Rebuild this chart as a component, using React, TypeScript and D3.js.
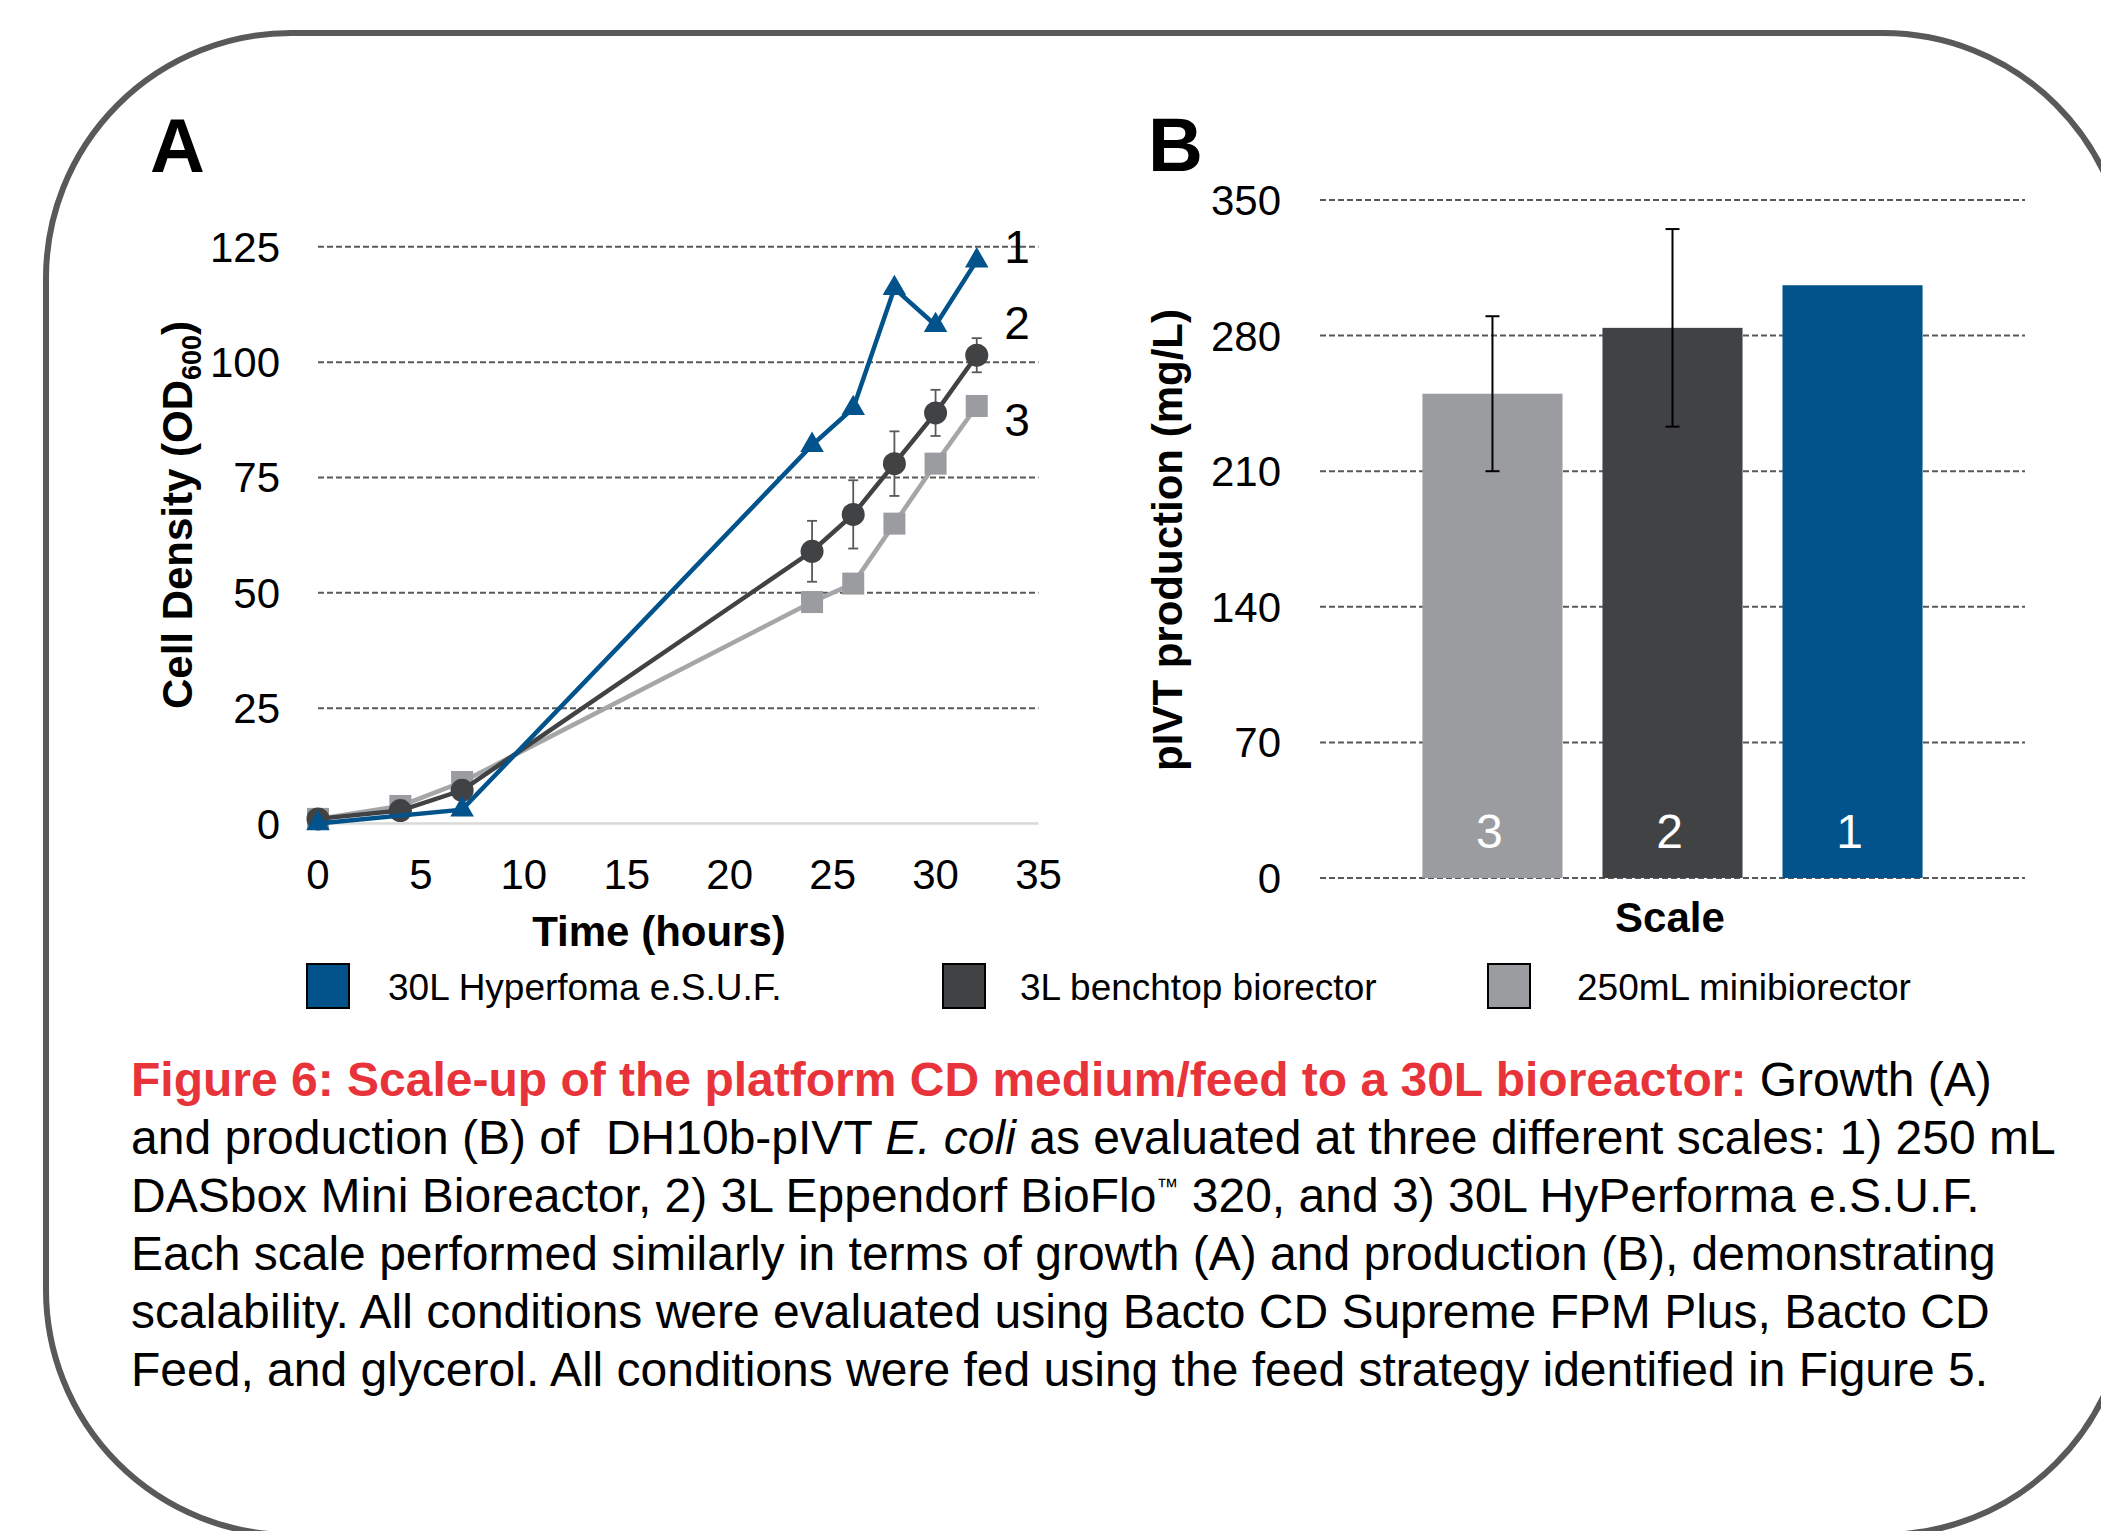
import React from "react";
import * as d3 from "d3";

// ---------- Data ----------
const hoursAll = [0, 4, 7, 24, 26, 28, 30, 32];
const hours30L = [0, 7, 24, 26, 28, 30, 32];
const od30L = [0, 3, 82, 90, 116, 108, 122];
const od3L = [1, 2.8, 7.2, 59, 67, 78, 89, 101.5];
const od3LErr = [0, 0, 0, 6.6, 7.4, 7, 5, 3.7];
const od250 = [1, 3.8, 9, 48, 52, 65, 78, 90.5];

const xTicksA = [0, 5, 10, 15, 20, 25, 30, 35];
const yTicksA = [0, 25, 50, 75, 100, 125];

const scaleCats = ["3", "2", "1"];
const production = [250, 284, 306];
const productionErr = [40, 51, 0];
const yTicksB = [0, 70, 140, 210, 280, 350];

const legendNames = ["30L Hyperfoma e.S.U.F.", "3L benchtop biorector", "250mL minibiorector"];

const C_BLUE = "#02538b";
const C_DARK = "#414244";
const C_GRAY = "#9b9c9f";
const C_GRAYLINE = "#a5a6a8";
const GRID = "#595959";
const FONT = "'Liberation Sans', Arial, Helvetica, sans-serif";

export default function App() {
  // Panel A scales
  const xA = d3.scaleLinear().domain([0, 35]).range([318, 1038.5]);
  const yA = d3.scaleLinear().domain([0, 125]).range([823.5, 246.8]);
  const lineA = (xs: number[], ys: number[]) =>
    d3.line<number>().x((_, i) => xA(xs[i])).y((d) => yA(d))(ys) || "";
  const tri = d3.symbol(d3.symbolTriangle, 240)() || "";

  // Panel B scales
  const xB = d3.scaleBand<string>().domain(scaleCats).range([1320, 2025]).paddingInner(0.222).paddingOuter(0.569);
  const yB = d3.scaleLinear().domain([0, 350]).range([878, 200]);
  const barColors = [C_GRAY, C_DARK, C_BLUE];

  const legendX = [307, 943, 1488];
  const legendTextX = [388, 1020, 1577];
  const legendColors = [C_BLUE, C_DARK, C_GRAY];

  const capX = 131;
  const capY0 = 1096;
  const capDy = 57.9;
  const capFs = 48;

  return (
    <svg
      width={2101}
      height={1531}
      style={{ position: "absolute", left: 0, top: 0, background: "#fff" }}
      fontFamily={FONT}
    >
      <rect x={0} y={0} width={2101} height={1531} fill="#fff" />
      {/* rounded frame */}
      <rect x={46} y={33} width={2082} height={1502} rx={245} ry={245} fill="none" stroke="#58595b" strokeWidth={6} />

      {/* ---------- Panel A ---------- */}
      <text x={150} y={172} fontSize={76} fontWeight="bold" fill="#000">A</text>
      {yTicksA.map((t) => (
        <g key={"ya" + t}>
          {t === 0 ? (
            <line x1={xA(0)} x2={xA(35)} y1={yA(t)} y2={yA(t)} stroke="#d9d9d9" strokeWidth={2.5} />
          ) : (
            <line x1={xA(0)} x2={xA(35)} y1={yA(t)} y2={yA(t)} stroke={GRID} strokeWidth={2} strokeDasharray="6,3" />
          )}
          <text x={280} y={yA(t) + 15} fontSize={42} textAnchor="end" fill="#000">{t}</text>
        </g>
      ))}
      {xTicksA.map((t) => (
        <text key={"xa" + t} x={xA(t)} y={889} fontSize={42} textAnchor="middle" fill="#000">{t}</text>
      ))}
      <text x={659} y={946} fontSize={42} fontWeight="bold" textAnchor="middle" fill="#000">Time (hours)</text>
      <text transform="translate(192,515) rotate(-90)" fontSize={42} fontWeight="bold" textAnchor="middle" fill="#000">
        Cell Density (OD<tspan fontSize={27} dy={9}>600</tspan><tspan dy={-9}>)</tspan>
      </text>

      {/* series 3: 250 mL */}
      <path d={lineA(hoursAll, od250)} fill="none" stroke={C_GRAYLINE} strokeWidth={4.5} />
      {od250.map((v, i) => (
        <rect key={"s3" + i} x={xA(hoursAll[i]) - 11} y={yA(v) - 11} width={22} height={22} fill={C_GRAY} />
      ))}
      {/* series 2: 3 L */}
      <path d={lineA(hoursAll, od3L)} fill="none" stroke={C_DARK} strokeWidth={4.5} />
      {od3L.map((v, i) =>
        od3LErr[i] > 0 ? (
          <g key={"e2" + i} stroke="#595959" strokeWidth={1.8}>
            <line x1={xA(hoursAll[i])} x2={xA(hoursAll[i])} y1={yA(v - od3LErr[i])} y2={yA(v + od3LErr[i])} />
            <line x1={xA(hoursAll[i]) - 5} x2={xA(hoursAll[i]) + 5} y1={yA(v - od3LErr[i])} y2={yA(v - od3LErr[i])} />
            <line x1={xA(hoursAll[i]) - 5} x2={xA(hoursAll[i]) + 5} y1={yA(v + od3LErr[i])} y2={yA(v + od3LErr[i])} />
          </g>
        ) : null
      )}
      {od3L.map((v, i) => (
        <circle key={"s2" + i} cx={xA(hoursAll[i])} cy={yA(v)} r={11.5} fill={C_DARK} />
      ))}
      {/* series 1: 30 L */}
      <path d={lineA(hours30L, od30L)} fill="none" stroke={C_BLUE} strokeWidth={4.5} />
      {od30L.map((v, i) => (
        <path key={"s1" + i} d={tri} transform={`translate(${xA(hours30L[i])},${yA(v)})`} fill={C_BLUE} />
      ))}
      <text x={1017} y={246 + 17} fontSize={46} textAnchor="middle" fill="#000">1</text>
      <text x={1017} y={322 + 17} fontSize={46} textAnchor="middle" fill="#000">2</text>
      <text x={1017} y={419 + 17} fontSize={46} textAnchor="middle" fill="#000">3</text>

      {/* ---------- Panel B ---------- */}
      <text x={1148} y={171} fontSize={76} fontWeight="bold" fill="#000">B</text>
      {yTicksB.map((t) => (
        <g key={"yb" + t}>
          <line x1={1320} x2={2025} y1={yB(t)} y2={yB(t)} stroke={GRID} strokeWidth={2} strokeDasharray="6,3" />
          <text x={1281} y={yB(t) + 15} fontSize={42} textAnchor="end" fill="#000">{t}</text>
        </g>
      ))}
      {scaleCats.map((c, i) => (
        <g key={"bar" + c}>
          <rect x={xB(c)} y={yB(production[i])} width={xB.bandwidth()} height={yB(0) - yB(production[i])} fill={barColors[i]} />
          <text x={(xB(c) as number) + xB.bandwidth() / 2 - 3} y={848} fontSize={48} textAnchor="middle" fill="#fff">{c}</text>
        </g>
      ))}
      {scaleCats.map((c, i) => {
        if (!productionErr[i]) return null;
        const cx = (xB(c) as number) + xB.bandwidth() / 2;
        const lo = yB(production[i] - productionErr[i]);
        const hi = yB(production[i] + productionErr[i]);
        return (
          <g key={"eb" + c} stroke="#000" strokeWidth={2}>
            <line x1={cx} x2={cx} y1={lo} y2={hi} />
            <line x1={cx - 7} x2={cx + 7} y1={lo} y2={lo} />
            <line x1={cx - 7} x2={cx + 7} y1={hi} y2={hi} />
          </g>
        );
      })}
      <text x={1670} y={932} fontSize={42} fontWeight="bold" textAnchor="middle" fill="#000">Scale</text>
      <text transform="translate(1182,540) rotate(-90)" fontSize={42} fontWeight="bold" textAnchor="middle" fill="#000">
        pIVT production (mg/L)
      </text>

      {/* ---------- Legend ---------- */}
      {legendNames.map((n, i) => (
        <g key={"lg" + i}>
          <rect x={legendX[i]} y={964} width={42} height={44} fill={legendColors[i]} stroke="#000" strokeWidth={2} />
          <text x={legendTextX[i]} y={1000} fontSize={37} fill="#000">{n}</text>
        </g>
      ))}

      {/* ---------- Caption ---------- */}
      <g fontSize={capFs} fill="#000">
        <text x={capX} y={capY0}>
          <tspan fill="#e8333a" fontWeight="bold">Figure 6: Scale-up of the platform CD medium/feed to a 30L bioreactor:</tspan>
          <tspan> Growth (A)</tspan>
        </text>
        <text x={capX} y={capY0 + capDy} xmlSpace="preserve">
          and production (B) of  DH10b-pIVT <tspan fontStyle="italic">E. coli</tspan> as evaluated at three different scales: 1) 250 mL
        </text>
        <text x={capX} y={capY0 + capDy * 2}>
          DASbox Mini Bioreactor, 2) 3L Eppendorf BioFlo<tspan fontSize={22} dy={-18}>™</tspan>
          <tspan dy={18}> 320, and 3) 30L HyPerforma e.S.U.F.</tspan>
        </text>
        <text x={capX} y={capY0 + capDy * 3}>
          Each scale performed similarly in terms of growth (A) and production (B), demonstrating
        </text>
        <text x={capX} y={capY0 + capDy * 4}>
          scalability. All conditions were evaluated using Bacto CD Supreme FPM Plus, Bacto CD
        </text>
        <text x={capX} y={capY0 + capDy * 5}>
          Feed, and glycerol. All conditions were fed using the feed strategy identified in Figure 5.
        </text>
      </g>
    </svg>
  );
}
